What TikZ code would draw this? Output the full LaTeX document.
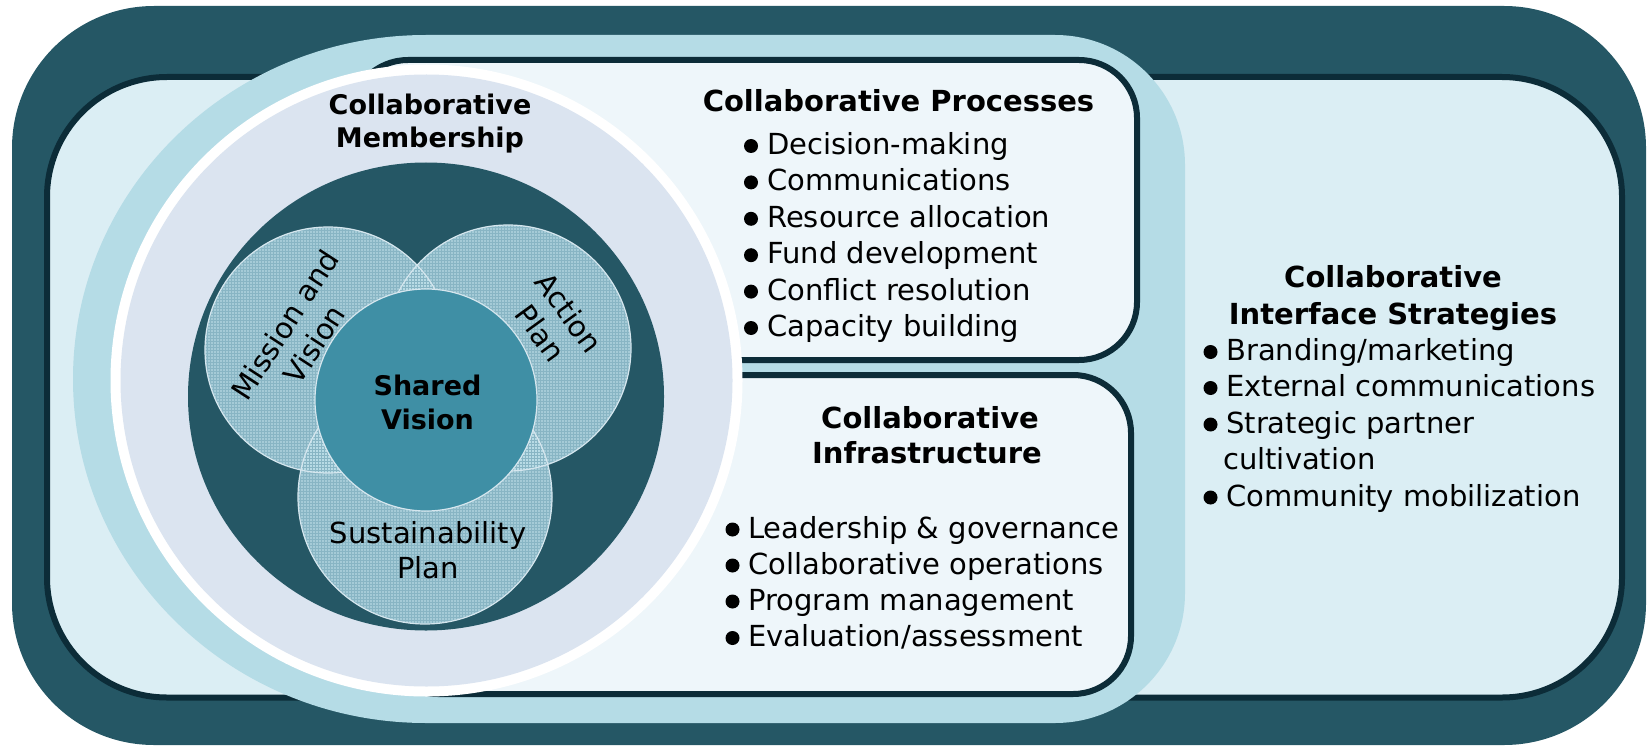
\documentclass[tikz,border=0pt]{standalone}
\usepackage{fontspec}
\setmainfont{DejaVu Sans}
\usetikzlibrary{patterns}
\definecolor{dteal}{HTML}{255765}
\definecolor{bord}{HTML}{0C2C38}
\definecolor{ifill}{HTML}{DBEEF4}
\definecolor{lblue}{HTML}{B5DCE6}
\definecolor{pfill}{HTML}{EEF6FA}
\definecolor{lav}{HTML}{DBE4F0}
\definecolor{vbase}{HTML}{A5CBD7}
\definecolor{vgrid}{HTML}{88B5C4}
\definecolor{vlight}{HTML}{B8DBE5}
\definecolor{vline}{HTML}{D5E6EE}
\definecolor{shared}{HTML}{3F8FA5}
\begin{document}
\begin{tikzpicture}[x=1pt,y=-1pt,
  hdr/.style={font=\fontsize{29}{36}\selectfont\bfseries, inner sep=0pt, anchor=base},
  hdrs/.style={font=\fontsize{27}{33}\selectfont\bfseries, inner sep=0pt, anchor=base},
  itm/.style={font=\fontsize{29}{36}\selectfont, inner sep=0pt, anchor=base west},
  lbl/.style={font=\fontsize{29}{35}\selectfont, align=center, inner sep=0pt},
  lblb/.style={font=\fontsize{29}{35}\selectfont, inner sep=0pt, anchor=base},
  boxed/.style={draw=bord, line width=6pt, fill=pfill, rounded corners=58pt},
  venn/.style={draw=vline, line width=1.2pt},
  bul/.style={fill=black}]
\useasboundingbox (0,0) rectangle (1648,746);
% outer frame
\fill[dteal, rounded corners=142pt] (12,6) rectangle (1646,745);
\draw[draw=bord, line width=6pt, fill=ifill, rounded corners=120pt] (47,77) rectangle (1622,697.5);
% light blue band
\fill[lblue] (426,35) -- (1055,35) arc[start angle=-90, end angle=0, radius=130]
  -- (1185,593) arc[start angle=0, end angle=90, radius=130]
  -- (426,723) arc[start angle=90, end angle=270, x radius=353, y radius=344] -- cycle;
% process and infrastructure boxes
\draw[boxed] (350,60) rectangle (1137,360);
\draw[boxed] (380,375) rectangle (1131,694);
% circles
\fill[white] (426.5,380.5) circle (316);
\fill[lav] (426.5,380.5) circle (306);
\fill[dteal] (426,396.5) ellipse [x radius=238, y radius=234];
% venn
\fill[vbase] (328,350) circle (123);
\fill[vbase] (508,348) circle (123);
\fill[vbase] (425,497) circle (127);
\begin{scope}
  \clip (328,350) circle (123);
  \fill[vlight] (508,348) circle (123);
  \fill[vlight] (425,497) circle (127);
\end{scope}
\begin{scope}
  \clip (508,348) circle (123);
  \fill[vlight] (425,497) circle (127);
\end{scope}
\fill[pattern=grid, pattern color=vgrid] (328,350) circle (123);
\fill[pattern=grid, pattern color=vgrid] (508,348) circle (123);
\fill[pattern=grid, pattern color=vgrid] (425,497) circle (127);
\draw[venn] (328,350) circle (123);
\draw[venn] (508,348) circle (123);
\draw[venn] (425,497) circle (127);
\draw[venn, fill=shared] (426,400) circle (111);
% circle labels
\node[hdrs] (mem1) at (430,115) {Collaborative};
\node[hdrs] (mem2) at (430,148) {Membership};
\node[hdrs] (sv1) at (427.5,395) {Shared};
\node[hdrs] (sv2) at (427.5,429) {Vision};
\node[lbl, rotate=57] (mis) at (299.5,334.5) {Mission and\\Vision};
\node[lbl, rotate=-54] (act) at (555,323) {Action\\Plan};
\node[lblb] (sus1) at (428,543) {Sustainability};
\node[lblb] (sus2) at (428,578) {Plan};
% processes
\node[hdr] (ph) at (898.5,112) {Collaborative Processes};
\node[itm] (p1) at (767,154.5) {Decision-making};
\node[itm] (p2) at (767,190.9) {Communications};
\node[itm] (p3) at (767,227.3) {Resource allocation};
\node[itm] (p4) at (767,263.7) {Fund development};
\node[itm] (p5) at (767,300.1) {Conflict resolution};
\node[itm] (p6) at (767,336.5) {Capacity building};
\foreach \n in {p1,p2,p3,p4,p5,p6}
  \fill[bul] ([xshift=-16pt,yshift=8.5pt]\n.base west) circle (7);
% infrastructure
\node[hdr] (ih1) at (930,428) {Collaborative};
\node[hdr] (ih2) at (927,463) {Infrastructure};
\node[itm] (i1) at (748,538) {Leadership \& governance};
\node[itm] (i2) at (748,574) {Collaborative operations};
\node[itm] (i3) at (748,610) {Program management};
\node[itm] (i4) at (748,646.5) {Evaluation/assessment};
\foreach \n in {i1,i2,i3,i4}
  \fill[bul] ([xshift=-15.5pt,yshift=8.5pt]\n.base west) circle (7);
% interface strategies
\node[hdr] (sh1) at (1393,287) {Collaborative};
\node[hdr] (sh2) at (1393,324) {Interface Strategies};
\node[itm] (s1) at (1226,360.5) {Branding/marketing};
\node[itm] (s2) at (1226,396.5) {External communications};
\node[itm] (s3) at (1226,433) {Strategic partner};
\node[itm] (s3b) at (1223,469.5) {cultivation};
\node[itm] (s4) at (1226,506) {Community mobilization};
\foreach \n in {s1,s2,s3,s4}
  \fill[bul] ([xshift=-15.5pt,yshift=8.5pt]\n.base west) circle (7);
\end{tikzpicture}
\end{document}
